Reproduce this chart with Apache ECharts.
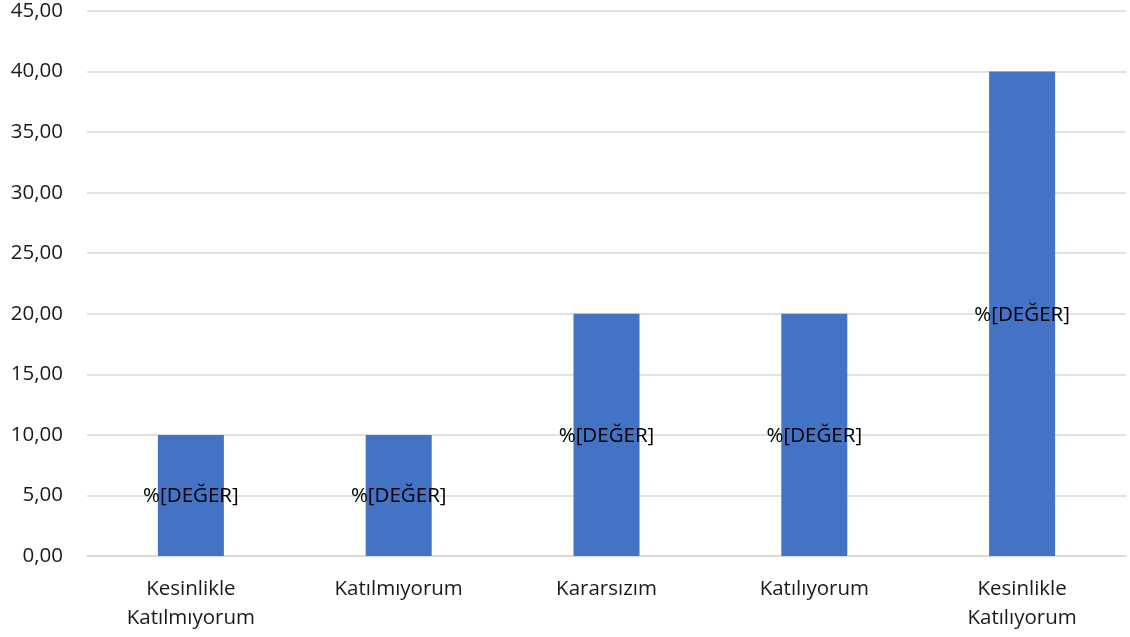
<!DOCTYPE html>
<html><head><meta charset="utf-8">
<script src="https://cdn.jsdelivr.net/npm/echarts@6/dist/echarts.min.js"></script>
<style>html,body{margin:0;padding:0;background:#fff}#c{width:1130px;height:637px}</style>
</head><body><div id="c"></div>
<script>
const categories = ['Kesinlikle\nKatılmıyorum', 'Katılmıyorum', 'Kararsızım', 'Katılıyorum', 'Kesinlikle\nKatılıyorum'];
const values = [10, 10, 20, 20, 40];
const labelText = '%[DEĞER]';
const yMin = 0, yMax = 45, yInterval = 5;

const FONT = 'Open Sans';
const FS = 20.5;
const chart = echarts.init(document.getElementById('c'), null, {renderer: 'canvas'});
chart.setOption({
  animation: false,
  textStyle: {fontFamily: FONT},
  grid: {left: 87, right: 4, top: 11, bottom: 81, containLabel: false},
  xAxis: {
    type: 'category', data: categories,
    axisLine: {show: true, lineStyle: {color: '#D9D9D9', width: 1.5}},
    axisTick: {show: false},
    axisLabel: {color: '#1a1a1a', fontSize: FS, fontFamily: FONT, margin: 19, lineHeight: 29, interval: 0}
  },
  yAxis: {
    type: 'value', min: yMin, max: yMax, interval: yInterval,
    axisLine: {show: false}, axisTick: {show: false},
    splitLine: {lineStyle: {color: '#D9D9D9', width: 1.5}},
    axisLabel: {color: '#1a1a1a', fontSize: FS, fontFamily: FONT, margin: 24,
      formatter: v => v.toFixed(2).replace('.', ',')}
  },
  series: [{
    type: 'bar', data: values, barWidth: 66,
    itemStyle: {color: '#4472C4'},
    label: {show: true, position: 'inside', formatter: () => labelText,
      color: '#000', fontSize: FS, fontFamily: FONT, offset: [0, 1]}
  }]
});
</script></body></html>
